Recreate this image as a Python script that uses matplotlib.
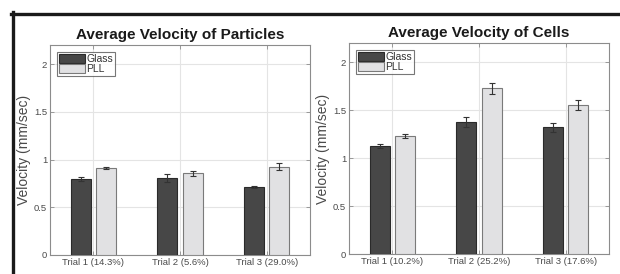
import matplotlib
matplotlib.use("Agg")
import matplotlib.pyplot as plt
import numpy as np
from matplotlib.lines import Line2D

plt.rcParams['font.family'] = ['Liberation Sans', 'DejaVu Sans']

trials_particles = ['Trial 1 (14.3%)', 'Trial 2 (5.6%)', 'Trial 3 (29.0%)']
trials_cells = ['Trial 1 (10.2%)', 'Trial 2 (25.2%)', 'Trial 3 (17.6%)']

glass_particles = [0.80, 0.81, 0.715]
glass_particles_err = [0.02, 0.04, 0.01]
pll_particles = [0.915, 0.855, 0.925]
pll_particles_err = [0.01, 0.025, 0.035]

glass_cells = [1.125, 1.375, 1.32]
glass_cells_err = [0.02, 0.055, 0.045]
pll_cells = [1.23, 1.73, 1.555]
pll_cells_err = [0.02, 0.057, 0.05]

dark = '#474747'
light = '#e1e1e3'
spine_col = '#8c8c8c'
text_col = '#4a4a4a'

fig = plt.figure(figsize=(6.2, 2.74), dpi=100)
fig.patch.set_facecolor('white')


def panel(rect, labels, g, ge, p, pe, title):
    ax = fig.add_axes(rect)
    x = np.arange(1, len(labels) + 1)
    w = 0.23
    off = 0.145
    ax.bar(x - off, g, w, color=dark, edgecolor='#2a2a2a', linewidth=0.8,
           label='Glass', zorder=3)
    ax.bar(x + off, p, w, color=light, edgecolor='#7a7a7a', linewidth=0.8,
           label='PLL', zorder=3)
    ax.errorbar(x - off, g, yerr=ge, fmt='none', ecolor='#333333',
                elinewidth=0.8, capsize=2, capthick=0.8, zorder=4)
    ax.errorbar(x + off, p, yerr=pe, fmt='none', ecolor='#333333',
                elinewidth=0.8, capsize=2, capthick=0.8, zorder=4)
    ax.set_xlim(0.5, 3.5)
    ax.set_ylim(0, 2.2)
    ax.set_xticks(x)
    ax.set_xticklabels(labels)
    ax.set_yticks([0, 0.5, 1, 1.5, 2])
    ax.set_yticklabels(['0', '0.5', '1', '1.5', '2'])
    ax.grid(True, color='#e4e4e4', linewidth=0.8, zorder=0)
    ax.set_axisbelow(True)
    for s in ax.spines.values():
        s.set_color(spine_col)
        s.set_linewidth(0.8)
    ax.tick_params(direction='in', length=3, width=0.6, colors=spine_col,
                   labelcolor=text_col, labelsize=6.8, top=True, right=True,
                   pad=2)
    ax.set_ylabel('Velocity (mm/sec)', fontsize=10, color=text_col, labelpad=2)
    ax.set_title(title, fontsize=11, fontweight='bold', color='#1a1a1a', pad=4)
    leg = ax.legend(loc='upper left', fontsize=7.5, frameon=True, fancybox=False,
                    edgecolor='#555555', borderpad=0.15, handlelength=2.5,
                    handleheight=0.9, handletextpad=0.15, labelspacing=0.05,
                    borderaxespad=0.7)
    leg.get_frame().set_linewidth(0.8)
    for t in leg.get_texts():
        t.set_color('#333333')
    return ax


panel([50 / 620, 19 / 274, 260 / 620, 210 / 274], trials_particles,
      glass_particles, glass_particles_err, pll_particles, pll_particles_err,
      'Average Velocity of Particles')
panel([349 / 620, 20 / 274, 260 / 620, 211 / 274], trials_cells,
      glass_cells, glass_cells_err, pll_cells, pll_cells_err,
      'Average Velocity of Cells')

# black frame top and left
fig.add_artist(Line2D([11 / 620, 1], [1 - 13.5 / 274, 1 - 13.5 / 274],
                      transform=fig.transFigure, color='#1a1a1a', linewidth=2.4))
fig.add_artist(Line2D([12.5 / 620, 12.5 / 620], [0, 1 - 12 / 274],
                      transform=fig.transFigure, color='#1a1a1a', linewidth=2.4))

fig.savefig('out.png', dpi=100)
